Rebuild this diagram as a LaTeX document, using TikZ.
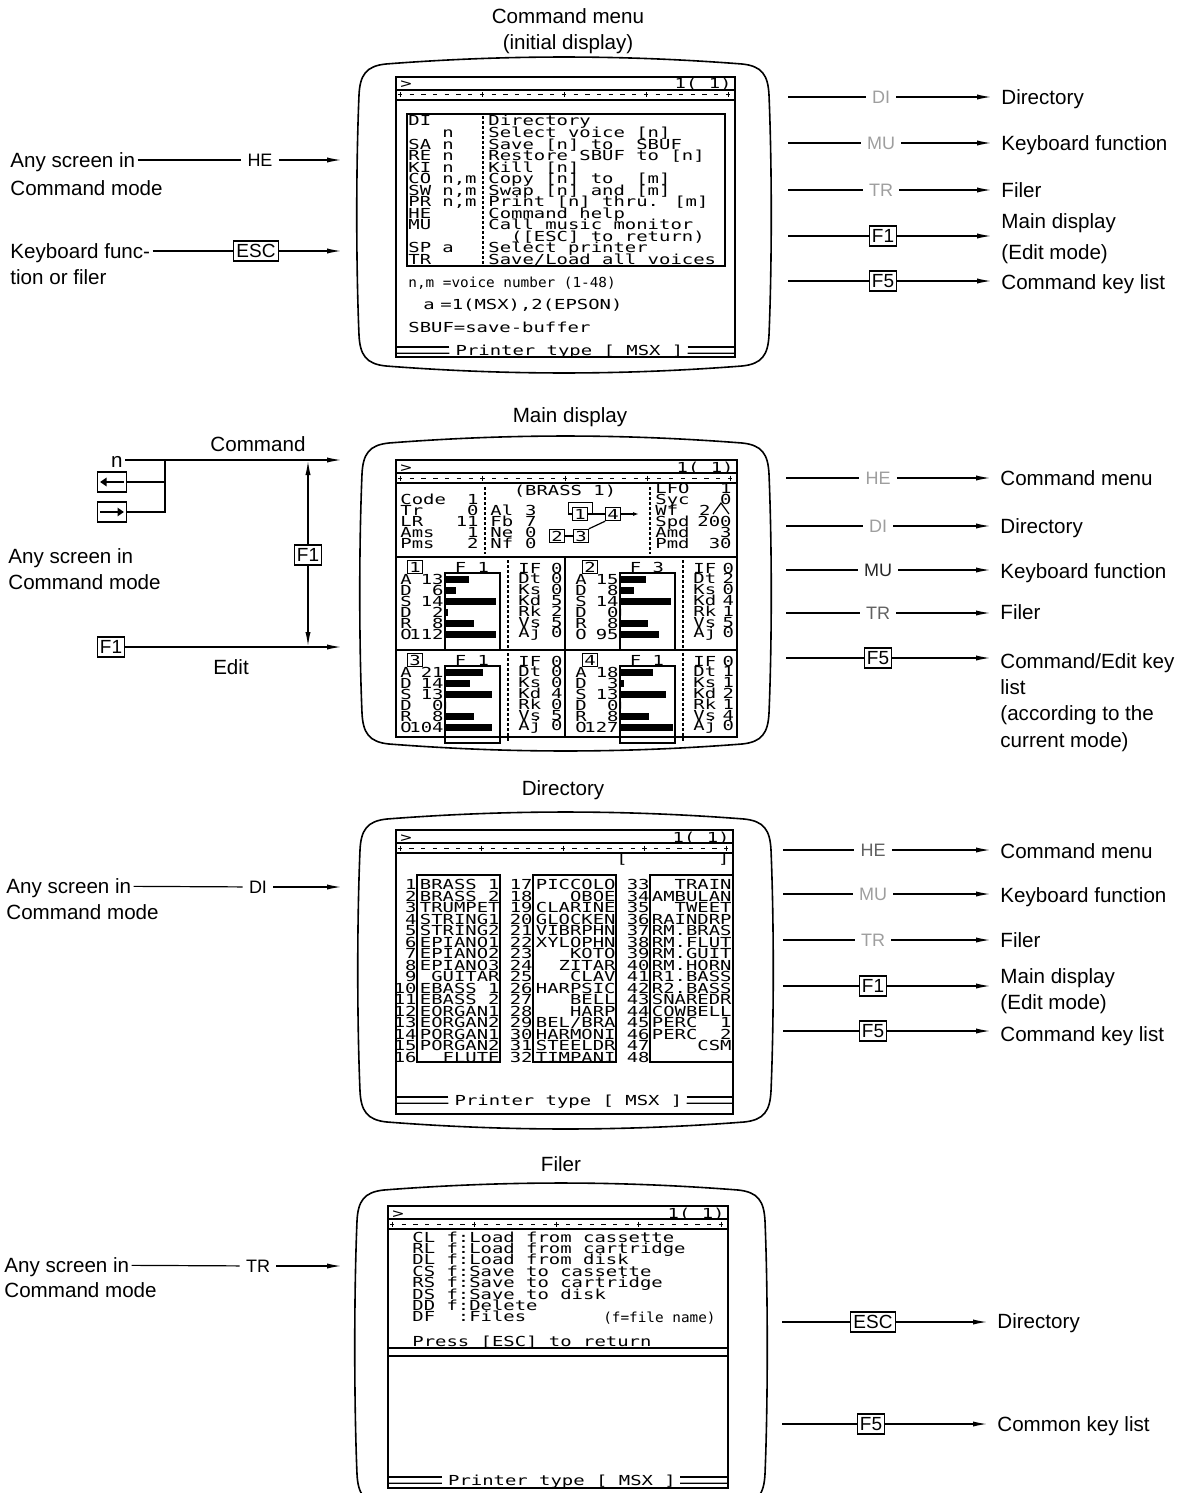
\documentclass[tikz,border=0pt]{standalone}
\usepackage{fontspec}
\setmainfont{Liberation Sans}
\newfontfamily\scrfont{DejaVu Sans Mono}[FakeStretch=1.37]
\newfontfamily\scrnarrowfont{DejaVu Sans Mono}[FakeStretch=1.04]
\usetikzlibrary{arrows.meta}

\newcommand\scrtt{\scrfont\fontsize{6.9pt}{6pt}\selectfont}
\newcommand\scrnarrow{\scrnarrowfont\fontsize{6.9pt}{6pt}\selectfont}
\newcommand\lblfont{\fontsize{10.3pt}{12pt}\selectfont}
\newcommand\lbltwofont{\fontsize{10.3pt}{15.5pt}\selectfont}
\newcommand\keyfont{\fontsize{9.5pt}{11pt}\selectfont}
\newcommand\cmdfont{\fontsize{9pt}{11pt}\selectfont}

\colorlet{faint}{black!38}
\colorlet{halfink}{black!62}

\tikzset{
  lbl/.style={font=\lblfont, inner sep=1pt, text height=7.4pt, text depth=0pt},
  lbltwo/.style={font=\lbltwofont, inner sep=1pt, align=left, anchor=west},
  keycap/.style={draw, line width=0.6pt, font=\keyfont, inner sep=1.4pt, text height=6.9pt, text depth=0.3pt},
  cmdkey/.style={font=\cmdfont, inner sep=3pt, text height=6.5pt, text depth=0pt},
  flow/.style={line width=0.6pt},
  goes/.style={flow, -{Latex[length=7pt,width=2.6pt]}},
  goestxt/.style={goes, shorten >=4pt},
  keyarrow/.style={line width=1.2pt, -{Triangle[length=3.2pt,width=4.2pt]}},
  scr/.style={font=\scrtt, inner sep=0pt, text height=5pt, text depth=0pt, anchor=west},
  scrn/.style={scr, font=\scrnarrow},
  opbox/.style={draw, line width=0.6pt, font=\scrtt, inner sep=0.8pt, text height=5pt, text depth=0pt},
  tvline/.style={line width=0.8pt},
  crt/.style={line width=1pt},
  colsep/.style={line width=0.7pt, dash pattern=on 1.5pt off 1pt},
}

% outer casing of a monitor: left, top, right, bottom
\newcommand\tvshell[4]{%
  \draw[tvline] (#1+30,#2+7) .. controls (#1+150,#2-2.3) and (#3-150,#2-2.3) .. (#3-30,#2+7)
    .. controls (#3-10,#2+9) and (#3-4,#2+18) .. (#3-3,#2+38)
    .. controls (#3,#2+110) and (#3,#4-110) .. (#3-3,#4-38)
    .. controls (#3-4,#4-18) and (#3-10,#4-9) .. (#3-30,#4-7)
    .. controls (#3-150,#4+2.3) and (#1+150,#4+2.3) .. (#1+30,#4-7)
    .. controls (#1+10,#4-9) and (#1+4,#4-18) .. (#1+3,#4-38)
    .. controls (#1,#4-110) and (#1,#2+110) .. (#1+3,#2+38)
    .. controls (#1+4,#2+18) and (#1+10,#2+9) .. cycle;
}

% prompt line and ruler: prefix, left, right, top
\newcommand\screenhead[4]{%
  \node[scr] (#1-prompt) at (#2+4,#4+7) {>};
  \node[scr,anchor=east] (#1-page) at (#3-3,#4+7) {1(~1)};
  \draw[line width=1pt] (#2,#4+13) -- (#3,#4+13);
  \pgfmathsetmacro\rulestep{(#3-#2-11)/28}
  \foreach \k in {0,...,28}
    \draw[line width=0.5pt] ({#2+4+\k*\rulestep-2.2},#4+18) -- ({#2+4+\k*\rulestep+2.2},#4+18);
  \foreach \k in {0,7,14,21,28}
    \draw[line width=0.5pt] ({#2+4+\k*\rulestep},#4+15.5) -- ({#2+4+\k*\rulestep},#4+20.5);
  \draw[line width=0.7pt] (#2,#4+23) -- (#3,#4+23);
}

% status line at the bottom: prefix, left, right, y
\newcommand\screenfoot[4]{%
  \node[scr,anchor=center] (#1-printer) at ({(#2+#3)/2+4},#4) {Printer type [ MSX ]};
  \draw[line width=0.7pt] ([xshift=-3pt,yshift=1.6pt]#1-printer.west) -- (#2,#4-3.2);
  \draw[line width=0.7pt] ([xshift=-3pt,yshift=-1.6pt]#1-printer.west) -- (#2,#4+3.2);
  \draw[line width=0.7pt] ([xshift=2pt,yshift=1.6pt]#1-printer.east) -- (#3,#4-3.2);
  \draw[line width=0.7pt] ([xshift=2pt,yshift=-1.6pt]#1-printer.east) -- (#3,#4+3.2);
}

\begin{document}
\begin{tikzpicture}[x=0.5pt,y=-0.5pt]
  \useasboundingbox (0,0) rectangle (1192,1493);

  % ---------------- Command menu ----------------
  \node[lbl] (t-cm) at (568,16) {Command menu};
  \node[lbl] (t-cm2) at (568,42) {(initial display)};
  \tvshell{356}{57}{772}{373}
  \draw[crt] (396,77) rectangle (735,357);
  \screenhead{cm}{396}{735}{77}
  \draw[line width=1pt] (407,114) rectangle (725,266);
  \draw[colsep] (483,116) -- (483,264);
  \foreach \c/\p/\d [count=\i] in {DI//Directory, /n/Select voice [n], SA/n/Save [n] to~~SBUF,
      RE/n/Restore SBUF to [n], KI/n/Kill [n], CO/{n,m}/Copy [n] to~~[m], SW/{n,m}/Swap [n] and [m],
      PR/{n,m}/Print [n] thru. [m], HE//Command help, MU//Call music monitor, //~~([ESC] to return),
      SP/a/Select printer, TR//{Save/Load all voices}} {
    \node[scr] (cm-c\i) at (408,{109.5+11.5*\i}) {\c};
    \node[scr] (cm-p\i) at (442,{109.5+11.5*\i}) {\p};
    \node[scr] (cm-d\i) at (488,{109.5+11.5*\i}) {\d};
  }
  \node[scrn] (cm-nm) at (408,282) {n,m =voice number (1-48)};
  \node[scr] (cm-a) at (423,304) {a};
  \node[scr] (cm-aval) at (440,304) {=1(MSX),2(EPSON)};
  \node[scr] (cm-sbuf) at (408,327) {SBUF=save-buffer};
  \screenfoot{cm}{396}{735}{350}

  % entries into the command menu
  \node[lbl,anchor=west] (cm-any) at (8,160) {Any screen in};
  \node[lbl,anchor=west] (cm-anyb) at (8,188) {Command mode};
  \node[cmdkey] (cm-he) at (260,160) {HE};
  \coordinate (cm-in1) at (341,160);
  \draw[flow] (cm-any) -- (cm-he);
  \draw[goes] (cm-he) -- (cm-in1);
  \node[lbl,anchor=west] (cm-kbd) at (8,251) {Keyboard func-};
  \node[lbl,anchor=west] (cm-kbdb) at (8,277) {tion or filer};
  \node[keycap] (cm-esc) at (256,251) {ESC};
  \coordinate (cm-in2) at (341,251);
  \draw[flow] (cm-kbd) -- (cm-esc);
  \draw[goes] (cm-esc) -- (cm-in2);

  % exits from the command menu
  \coordinate (cm-out1) at (788,97);
  \node[cmdkey,text=faint] (cm-k1) at (881,97) {DI};
  \node[lbl,anchor=west] (cm-to1) at (999,97) {Directory};
  \draw[flow] (cm-out1) -- (cm-k1);
  \draw[goestxt] (cm-k1) -- (cm-to1);
  \coordinate (cm-out2) at (788,143);
  \node[cmdkey,text=faint] (cm-k2) at (881,143) {MU};
  \node[lbl,anchor=west] (cm-to2) at (999,143) {Keyboard function};
  \draw[flow] (cm-out2) -- (cm-k2);
  \draw[goestxt] (cm-k2) -- (cm-to2);
  \coordinate (cm-out3) at (788,190);
  \node[cmdkey,text=faint] (cm-k3) at (881,190) {TR};
  \node[lbl,anchor=west] (cm-to3) at (999,190) {Filer};
  \draw[flow] (cm-out3) -- (cm-k3);
  \draw[goestxt] (cm-k3) -- (cm-to3);
  \coordinate (cm-out4) at (788,236);
  \node[keycap] (cm-k4) at (883,236) {F1};
  \node[lbltwo] (cm-to4) at (999,239) {Main display\\(Edit mode)};
  \draw[flow] (cm-out4) -- (cm-k4);
  \draw[goestxt] (cm-k4) -- (cm-to4.west |- cm-k4);
  \coordinate (cm-out5) at (788,281);
  \node[keycap] (cm-k5) at (883,281) {F5};
  \node[lbl,anchor=west] (cm-to5) at (999,282) {Command key list};
  \draw[flow] (cm-out5) -- (cm-k5);
  \draw[goestxt] (cm-k5) -- (cm-to5.west |- cm-k5);

  % ---------------- Main display ----------------
  \node[lbl] (t-md) at (570,415) {Main display};
  \tvshell{359}{436}{772}{751}
  \draw[crt] (396,460) rectangle (737,737);
  \screenhead{md}{396}{737}{460}
  \draw[line width=0.9pt] (396,557) -- (737,557);
  \draw[line width=0.9pt] (396,650) -- (737,650);
  \draw[line width=0.9pt] (565,557) -- (565,737);
  \draw[colsep] (485,487) -- (485,554);
  \draw[colsep] (650,487) -- (650,554);
  \node[scr,anchor=center] (md-voice) at (565,490) {(BRASS~1)};
  \foreach \l/\v [count=\k] in {Code/1, Tr/0, LR/11, Ams/1, Pms/2} {
    \node[scr] (md-l\k) at (400,{488+11*\k}) {\l};
    \node[scr,anchor=east] (md-v\k) at (479,{488+11*\k}) {\v};
  }
  \foreach \l/\v [count=\k] in {Al/3, Fb/7, Ne/0, Nf/0} {
    \node[scr] (md-m\k) at (490,{499+11*\k}) {\l};
    \node[scr,anchor=east] (md-mv\k) at (537,{499+11*\k}) {\v};
  }
  \foreach \l/\v [count=\k] in {LFO/1, Syc/0, Wf/{}, Spd/200, Amd/3, Pmd/30} {
    \node[scr] (md-r\k) at (655,{477+11*\k}) {\l};
    \node[scr,anchor=east] (md-rv\k) at (732,{477+11*\k}) {\v};
  }
  \node[scr,anchor=east] (md-wf) at (711,510) {2};
  \draw[line width=0.6pt] (713,514) -- (721,503) -- (729,514);
  % algorithm
  \node[opbox] (alg1) at (580,514) {1};
  \node[opbox] (alg4) at (613,514) {4};
  \node[opbox] (alg2) at (557,536) {2};
  \node[opbox] (alg3) at (581,536) {3};
  \coordinate (alg-out) at (639,514);
  \draw[flow] (alg1) -- (alg4);
  \draw[flow, -{Latex[length=3pt,width=2pt]}] (alg4) -- (alg-out);
  \draw[flow] (alg2) -- (alg3);
  \draw[flow] (alg4.south west) -- (alg3.north east);
  \draw[flow] (alg1.west) -- ++(-4,0) |- ([yshift=2pt]alg1.north) -| ([xshift=2.5pt]alg1.east);
  % operator panels
  \foreach \p/\dx/\dy/\fv/\env/\lst in {
      1/0/0/1/{A/13/23,D/6/10,S/14/50,D/2/2,R/8/28,O/112/50}/{IF/0,Dt/0,Ks/0,Kd/5,Rk/2,Vs/5,Aj/0},
      2/175/0/3/{A/15/25,D/8/13,S/14/50,D/0/0,R/8/27,O/95/38}/{IF/0,Dt/2,Ks/0,Kd/4,Rk/1,Vs/5,Aj/0},
      3/0/93/1/{A/21/37,D/14/24,S/13/46,D/0/0,R/8/28,O/104/46}/{IF/0,Dt/0,Ks/0,Kd/4,Rk/0,Vs/5,Aj/0},
      4/175/93/1/{A/18/32,D/3/3,S/13/45,D/0/0,R/8/28,O/127/52}/{IF/0,Dt/1,Ks/1,Kd/2,Rk/1,Vs/4,Aj/0}} {
    \node[opbox] (op\p) at ({415+\dx},{567+\dy}) {\p};
    \node[scr,anchor=center] (opf\p) at ({472+\dx},{567+\dy}) {F~\fv};
    \draw[line width=0.8pt] ({445+\dx},{573+\dy}) rectangle ({500+\dx},{650+\dy});
    \draw[colsep] ({508+\dx},{560+\dy}) -- ({508+\dx},{648+\dy});
    \foreach \l/\v/\len [count=\k] in \env {
      \node[scr] (ope\p-\k) at ({400+\dx},{568+\dy+11*\k}) {\l};
      \node[scr,anchor=east] (opv\p-\k) at ({444+\dx},{568+\dy+11*\k}) {\v};
      \fill ({446+\dx},{564.5+\dy+11*\k}) rectangle ++(\len,7);
    }
    \foreach \l/\v [count=\k] in \lst {
      \node[scr] (opr\p-\k) at ({518+\dx},{557.2+\dy+10.8*\k}) {\l};
      \node[scr,anchor=east] (oprv\p-\k) at ({563+0.98*\dx},{557.2+\dy+10.8*\k}) {\v};
    }
  }

  % entries into the main display
  \node[lbl,anchor=east] (md-n) at (125,460) {n};
  \coordinate (md-in1) at (341,460);
  \coordinate (md-join) at (165,460);
  \draw[goes] (md-n) -- (md-in1);
  \node[keycap, minimum width=14.5pt, minimum height=8.3pt] (md-left) at (112,482) {};
  \node[keycap, minimum width=14.5pt, minimum height=8.3pt] (md-right) at (112,512) {};
  \draw[keyarrow] ([xshift=-1.6pt]md-left.east) -- ([xshift=1.6pt]md-left.west);
  \draw[keyarrow] ([xshift=1.6pt]md-right.west) -- ([xshift=-1.6pt]md-right.east);
  \draw[flow] (md-left) -| (md-join);
  \draw[flow] (md-right) -| (md-join);
  \node[lbl] (md-cmdtxt) at (258,444) {Command};
  \node[keycap] (md-f1v) at (308,555) {F1};
  \coordinate (md-cmdhit) at (308,461);
  \coordinate (md-edithit) at (308,646);
  \draw[goes] (md-f1v) -- (md-cmdhit);
  \draw[goes] (md-f1v) -- (md-edithit);
  \node[keycap] (md-f1) at (111,647) {F1};
  \coordinate (md-in2) at (341,647);
  \draw[goes] (md-f1) -- (md-in2);
  \node[lbl] (md-edittxt) at (231,667) {Edit};
  \node[lbl,anchor=west] (md-any) at (6,556) {Any screen in};
  \node[lbl,anchor=west] (md-anyb) at (6,582) {Command mode};

  % exits from the main display
  \coordinate (md-out1) at (786,478);
  \node[cmdkey,text=faint] (md-k1) at (878,478) {HE};
  \node[lbl,anchor=west] (md-to1) at (998,478) {Command menu};
  \draw[flow] (md-out1) -- (md-k1);
  \draw[goestxt] (md-k1) -- (md-to1);
  \coordinate (md-out2) at (786,526);
  \node[cmdkey,text=faint] (md-k2) at (878,526) {DI};
  \node[lbl,anchor=west] (md-to2) at (998,526) {Directory};
  \draw[flow] (md-out2) -- (md-k2);
  \draw[goestxt] (md-k2) -- (md-to2);
  \coordinate (md-out3) at (786,570);
  \node[cmdkey,text=black!85] (md-k3) at (878,570) {MU};
  \node[lbl,anchor=west] (md-to3) at (998,571) {Keyboard function};
  \draw[flow] (md-out3) -- (md-k3);
  \draw[goestxt] (md-k3) -- (md-to3.west |- md-k3);
  \coordinate (md-out4) at (786,613);
  \node[cmdkey,text=halfink] (md-k4) at (878,613) {TR};
  \node[lbl,anchor=west] (md-to4) at (998,612) {Filer};
  \draw[flow] (md-out4) -- (md-k4);
  \draw[goestxt] (md-k4) -- (md-to4.west |- md-k4);
  \coordinate (md-out5) at (786,658);
  \node[keycap] (md-k5) at (878,658) {F5};
  \node[lbl,anchor=west] (md-to5) at (998,661) {Command/Edit key};
  \node[lbl,anchor=west] (md-to5b) at (998,687) {list};
  \node[lbl,anchor=west] (md-to5c) at (998,713) {(according to the};
  \node[lbl,anchor=west] (md-to5d) at (998,740) {current mode)};
  \draw[flow] (md-out5) -- (md-k5);
  \draw[goestxt] (md-k5) -- (md-to5.west |- md-k5);

  % ---------------- Directory ----------------
  \node[lbl] (t-dr) at (563,788) {Directory};
  \tvshell{357}{812}{774}{1129}
  \draw[crt] (396,830) rectangle (733,1114);
  \screenhead{dr}{396}{733}{830}
  \node[scr] (dr-open) at (616,858) {[};
  \node[scr,anchor=east] (dr-close) at (730,858) {]};
  \foreach \bx in {417,533,650}
    \draw[line width=0.9pt] (\bx,875) rectangle ++(83,187);
  \foreach \k in {1,...,16} {
    \pgfmathtruncatemacro\nb{\k+16}
    \pgfmathtruncatemacro\nc{\k+32}
    \node[scr,anchor=east] (dr-a\k) at (417,{873.5+11.47*\k}) {\k};
    \node[scr,anchor=east] (dr-b\k) at (533,{873.5+11.47*\k}) {\nb};
    \node[scr,anchor=east] (dr-c\k) at (650,{873.5+11.47*\k}) {\nc};
  }
  \foreach \nm [count=\k] in {BRASS~1, BRASS~2, TRUMPET, STRING1, STRING2, EPIANO1, EPIANO2, EPIANO3,
      GUITAR, EBASS~1, EBASS~2, EORGAN1, EORGAN2, PORGAN1, PORGAN2, FLUTE}
    \node[scr,anchor=east] (dr-na\k) at (500,{873.5+11.47*\k}) {\nm};
  \foreach \nm [count=\k] in {PICCOLO, OBOE, CLARINE, GLOCKEN, VIBRPHN, XYLOPHN, KOTO, ZITAR,
      CLAV, HARPSIC, BELL, HARP, BEL/BRA, HARMONI, STEELDR, TIMPANI}
    \node[scr,anchor=east] (dr-nb\k) at (616,{873.5+11.47*\k}) {\nm};
  \foreach \nm [count=\k] in {TRAIN, AMBULAN, TWEET, RAINDRP, RM.BRAS, RM.FLUT, RM.GUIT, RM.HORN,
      R1.BASS, R2.BASS, SNAREDR, COWBELL, PERC~~1, PERC~~2, CSM}
    \node[scr,anchor=east] (dr-nc\k) at (732,{873.5+11.47*\k}) {\nm};
  \screenfoot{dr}{396}{733}{1100}

  % entry into the directory
  \node[lbl,anchor=west] (dr-any) at (4,886) {Any screen in};
  \node[lbl,anchor=west] (dr-anyb) at (4,912) {Command mode};
  \node[cmdkey] (dr-di) at (258,887) {DI};
  \coordinate (dr-in) at (341,887);
  \draw[flow] (dr-any) -- (dr-di);
  \draw[goes] (dr-di) -- (dr-in);

  % exits from the directory
  \coordinate (dr-out1) at (783,850);
  \node[cmdkey,text=halfink] (dr-k1) at (873,850) {HE};
  \node[lbl,anchor=west] (dr-to1) at (998,851) {Command menu};
  \draw[flow] (dr-out1) -- (dr-k1);
  \draw[goestxt] (dr-k1) -- (dr-to1.west |- dr-k1);
  \coordinate (dr-out2) at (783,894);
  \node[cmdkey,text=faint] (dr-k2) at (873,894) {MU};
  \node[lbl,anchor=west] (dr-to2) at (998,895) {Keyboard function};
  \draw[flow] (dr-out2) -- (dr-k2);
  \draw[goestxt] (dr-k2) -- (dr-to2.west |- dr-k2);
  \coordinate (dr-out3) at (783,940);
  \node[cmdkey,text=faint] (dr-k3) at (873,940) {TR};
  \node[lbl,anchor=west] (dr-to3) at (998,940) {Filer};
  \draw[flow] (dr-out3) -- (dr-k3);
  \draw[goestxt] (dr-k3) -- (dr-to3);
  \coordinate (dr-out4) at (783,986);
  \node[keycap] (dr-k4) at (873,986) {F1};
  \node[lbltwo] (dr-to4) at (998,991) {Main display\\[-2.5pt](Edit mode)};
  \draw[flow] (dr-out4) -- (dr-k4);
  \draw[goestxt] (dr-k4) -- (dr-to4.west |- dr-k4);
  \coordinate (dr-out5) at (783,1031);
  \node[keycap] (dr-k5) at (873,1031) {F5};
  \node[lbl,anchor=west] (dr-to5) at (998,1034) {Command key list};
  \draw[flow] (dr-out5) -- (dr-k5);
  \draw[goestxt] (dr-k5) -- (dr-to5.west |- dr-k5);

  % ---------------- Filer ----------------
  \node[lbl] (t-fl) at (561,1164) {Filer};
  \tvshell{354}{1183}{768}{1512}
  \draw[crt] (388,1206) rectangle (728,1488);
  \screenhead{fl}{388}{728}{1206}
  \foreach \t [count=\k] in {CL~f:Load from cassette, RL~f:Load from cartridge, DL~f:Load from disk,
      CS~f:Save to cassette, RS~f:Save to cartridge, DS~f:Save to disk, DD~f:Delete, DF~~:Files}
    \node[scr] (fl-l\k) at (412,{1225.6+11.4*\k}) {\t};
  \node[scrn,anchor=east] (fl-fname) at (716,1317) {(f=file name)};
  \node[scr] (fl-press) at (412,1341) {Press [ESC] to return};
  \draw[line width=0.9pt] (388,1348) -- (728,1348);
  \draw[line width=0.9pt] (388,1356) -- (728,1356);
  \screenfoot{fl}{388}{728}{1480}

  % entry into the filer
  \node[lbl,anchor=west] (fl-any) at (2,1265) {Any screen in};
  \node[lbl,anchor=west] (fl-anyb) at (2,1290) {Command mode};
  \node[cmdkey] (fl-tr) at (258,1266) {TR};
  \coordinate (fl-in) at (341,1266);
  \draw[flow] (fl-any) -- (fl-tr);
  \draw[goes] (fl-tr) -- (fl-in);

  % exits from the filer
  \coordinate (fl-out1) at (782,1322);
  \node[keycap] (fl-k1) at (873,1322) {ESC};
  \node[lbl,anchor=west] (fl-to1) at (995,1321) {Directory};
  \draw[flow] (fl-out1) -- (fl-k1);
  \draw[goestxt] (fl-k1) -- (fl-to1.west |- fl-k1);
  \coordinate (fl-out2) at (782,1424);
  \node[keycap] (fl-k2) at (871,1424) {F5};
  \node[lbl,anchor=west] (fl-to2) at (995,1424) {Common key list};
  \draw[flow] (fl-out2) -- (fl-k2);
  \draw[goestxt] (fl-k2) -- (fl-to2);
\end{tikzpicture}
\end{document}
